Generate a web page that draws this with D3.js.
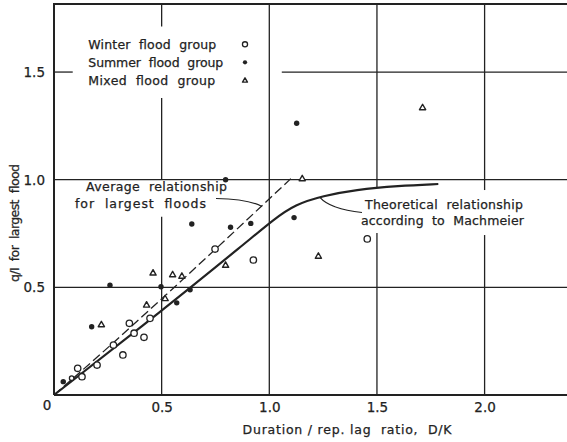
<!DOCTYPE html>
<html><head><meta charset="utf-8">
<script src="https://cdn.jsdelivr.net/npm/d3@7"></script>
<style>html,body{margin:0;padding:0;background:#fff;} svg{display:block;} svg text{white-space:pre;}</style>
</head><body><svg id="c" width="567" height="442"></svg>
<script>
// ---------- data ----------
const winterX = [0.082, 0.11, 0.13, 0.20, 0.276, 0.32, 0.35, 0.372, 0.418, 0.446, 0.748, 0.926, 1.455];
const winterY = [0.078, 0.124, 0.085, 0.139, 0.232, 0.186, 0.333, 0.287, 0.268, 0.356, 0.678, 0.627, 0.725];
const summerX = [0.043, 0.175, 0.26, 0.497, 0.57, 0.632, 0.64, 0.797, 0.82, 0.914, 1.115, 1.127];
const summerY = [0.062, 0.317, 0.51, 0.503, 0.428, 0.489, 0.794, 1.0, 0.779, 0.797, 0.824, 1.262];
const mixedX = [0.22, 0.43, 0.46, 0.516, 0.551, 0.594, 0.797, 1.153, 1.228, 1.712];
const mixedY = [0.328, 0.419, 0.568, 0.449, 0.56, 0.553, 0.604, 1.006, 0.646, 1.336];
const averageX = [0, 0.25, 0.52, 1.10];
const averageY = [0, 0.22, 0.465, 1.005];
const machmeierX = [0, 0, 0.5, 0.9, 1.02, 1.12, 1.25, 1.4, 1.6, 1.785, 1.785];
const machmeierY = [0, 0, 0.39, 0.715, 0.815, 0.885, 0.925, 0.953, 0.972, 0.98, 0.98];
const xTicks = [0.5, 1.0, 1.5, 2.0];
const xTickLabels = ["0.5", "1.0", "1.5", "2.0"];
const yTicks = [0.5, 1.0, 1.5];
const yTickLabels = ["0.5", "1.0", "1.5"];
const legendLabels = ["Winter  flood  group", "Summer  flood  group", "Mixed  flood  group"];
const legendKinds = ["winter", "summer", "mixed"];
const xTitle = "Duration / rep. lag  ratio,  D/K";
const yTitle = "q/I  for  largest  flood";
const averageLabel = ["Average  relationship", "for  largest  floods"];
const theoryLabel = ["Theoretical  relationship", "according  to  Machmeier"];

// ---------- layout ----------
const W = 567, H = 442;
const ox = 54, oy = 395, k = 215.3;
const x = d3.scaleLinear().domain([0, (W - ox) / k]).range([ox, W]);
const y = d3.scaleLinear().domain([0, (oy - 4) / k]).range([oy, 4]);
const ink = "#222";
const font = "'DejaVu Sans', sans-serif";

const svg = d3.select("#c");
svg.append("rect").attr("width", W).attr("height", H).attr("fill", "#fff");

// gridlines with gaps (gaps in data units)
const gridV = [
  {v: 0.5, gaps: [[0.828, 1.0], [1.379, 1.711]]},
  {v: 1.0, gaps: []},
  {v: 1.5, gaps: [[0.752, 0.966]]},
  {v: 2.0, gaps: [[0.743, 0.952]]}
];
const gridH = [
  {v: 0.5, gaps: []},
  {v: 1.0, gaps: []},
  {v: 1.5, gaps: [[0.087, 1.058]]}
];
function segs(lo, hi, gaps) {
  const out = []; let s = lo;
  gaps.forEach(g => { out.push([s, g[0]]); s = g[1]; });
  out.push([s, hi]);
  return out;
}
const g = svg.append("g").attr("stroke", ink).attr("stroke-width", 1.3).attr("fill", "none");
gridV.forEach(d => segs(0, y.domain()[1], d.gaps).forEach(s => {
  g.append("line").attr("x1", x(d.v)).attr("x2", x(d.v)).attr("y1", y(s[0])).attr("y2", y(s[1]));
}));
gridH.forEach(d => segs(0, x.domain()[1], d.gaps).forEach(s => {
  g.append("line").attr("y1", y(d.v)).attr("y2", y(d.v)).attr("x1", x(s[0])).attr("x2", x(s[1]));
}));
// frame
const f = svg.append("g").attr("stroke", ink).attr("stroke-width", 2).attr("fill", "none");
f.append("path").attr("d", `M${x(0)},${y(0)}H${W}M${x(0)},${y(0)}V${y.range()[1]}H${W}`);

function styleText(sel, size) {
  sel.attr("font-family", font).attr("font-size", size).attr("fill", ink)
    .attr("stroke", ink).attr("stroke-width", 0.25);
}

// axes
const xAxis = d3.axisBottom(x).tickValues(xTicks).tickFormat((d, i) => xTickLabels[i]).tickSize(0).tickPadding(7);
const gx = svg.append("g").attr("transform", `translate(0,${oy})`).call(xAxis);
gx.select(".domain").remove();
styleText(gx.selectAll("text"), 13.5);
const yAxis = d3.axisLeft(y).tickValues(yTicks).tickFormat((d, i) => yTickLabels[i]).tickSize(0).tickPadding(9);
const gy = svg.append("g").attr("transform", `translate(${ox},0)`).call(yAxis);
gy.select(".domain").remove();
styleText(gy.selectAll("text"), 13.5);
styleText(svg.append("text").attr("x", 47).attr("y", 410).attr("text-anchor", "middle").text("0"), 13.5);

// titles
styleText(svg.append("text").attr("x", 347).attr("y", 434).attr("text-anchor", "middle")
  .attr("textLength", 209).attr("lengthAdjust", "spacing").text(xTitle), 12.5);
styleText(svg.append("text").attr("transform", "translate(18.5,223) rotate(-90)").attr("text-anchor", "middle")
  .attr("textLength", 118).attr("lengthAdjust", "spacing").text(yTitle), 12.5);

// curves
svg.append("path").datum(averageX.map((v, i) => [v, averageY[i]]))
  .attr("d", d3.line().x(d => x(d[0])).y(d => y(d[1])).curve(d3.curveMonotoneX))
  .attr("fill", "none").attr("stroke", ink).attr("stroke-width", 1.3).attr("stroke-dasharray", "9,4");
svg.append("path").datum(machmeierX.map((v, i) => [v, machmeierY[i]]))
  .attr("d", d3.line().x(d => x(d[0])).y(d => y(d[1])).curve(d3.curveBasis))
  .attr("fill", "none").attr("stroke", ink).attr("stroke-width", 2.2);

// markers
function marker(sel, kind, cx, cy, s) {
  if (kind === "winter") {
    sel.append("circle").attr("cx", cx).attr("cy", cy).attr("r", 3.2 * s)
      .attr("fill", "#fff").attr("stroke", ink).attr("stroke-width", 1.3);
  } else if (kind === "summer") {
    sel.append("circle").attr("cx", cx).attr("cy", cy).attr("r", 2.7 * s).attr("fill", ink);
  } else {
    const a = 3.1 * s;
    sel.append("path").attr("d", `M${cx},${cy - a}L${cx + a},${cy + a * 0.75}L${cx - a},${cy + a * 0.75}Z`)
      .attr("fill", "#fff").attr("stroke", ink).attr("stroke-width", 1.4).attr("stroke-linejoin", "round");
  }
}
const m = svg.append("g");
winterX.forEach((v, i) => marker(m, "winter", x(v), y(winterY[i]), v < 0.1 ? 0.7 : 1));
summerX.forEach((v, i) => marker(m, "summer", x(v), y(summerY[i]), 1));
mixedX.forEach((v, i) => marker(m, "mixed", x(v), y(mixedY[i]), 1));

// legend
const legW = [128, 135, 127];
legendLabels.forEach((t, i) => {
  const cy = 44.3 + i * 18;
  styleText(svg.append("text").attr("x", 88.3).attr("y", cy + 4.5)
    .attr("textLength", legW[i]).attr("lengthAdjust", "spacing").text(t), 12.5);
  marker(svg, legendKinds[i], 245, cy, 0.8);
});

// annotations
function label(lines, xs, ys, ws) {
  lines.forEach((t, i) => styleText(svg.append("text").attr("x", xs[i]).attr("y", ys[i] + 4.5)
    .attr("textLength", ws[i]).attr("lengthAdjust", "spacing").text(t), 12.5));
}
label(averageLabel, [86, 75], [186.5, 203.3], [141, 131]);
label(theoryLabel, [365, 361], [204.3, 220], [158, 163]);
svg.append("path").attr("d", "M216,198.5 Q248,199 262,206.5").attr("fill", "none").attr("stroke", ink).attr("stroke-width", 1.2);
svg.append("path").attr("d", `M${x(1.235)},${y(0.918)} Q330,209 362,212.5`).attr("fill", "none").attr("stroke", ink).attr("stroke-width", 1.2);
</script></body></html>
